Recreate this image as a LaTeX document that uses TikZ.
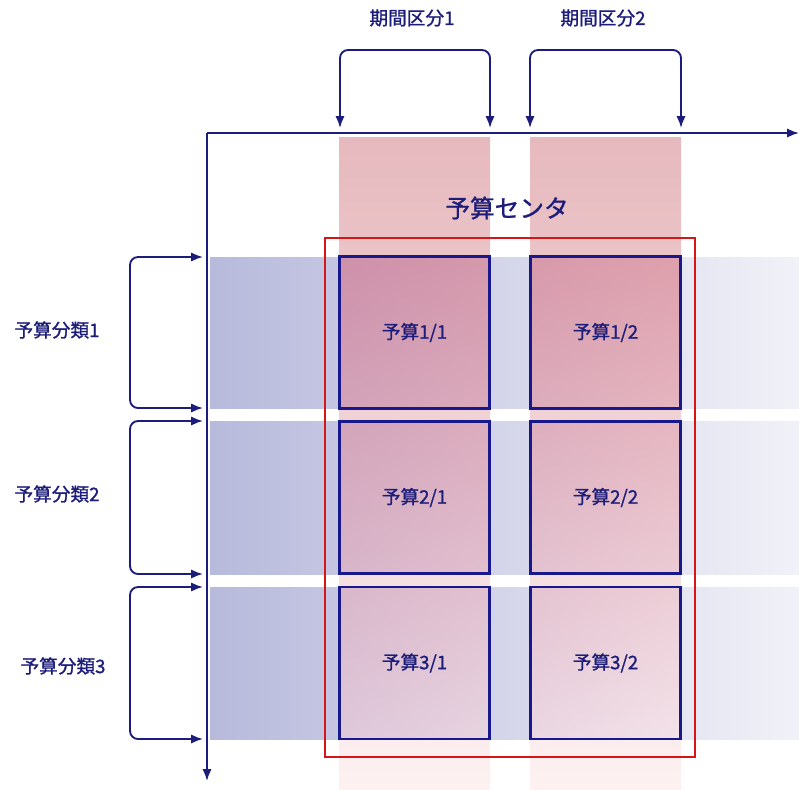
\documentclass[tikz,border=0pt]{standalone}
\usepackage{fontspec}
\setmainfont{Noto Sans CJK JP}[FakeBold=1]
\usetikzlibrary{arrows.meta,positioning,shadings}
\definecolor{navy}{RGB}{28,28,122}
\definecolor{cellblue}{RGB}{24,24,140}
\definecolor{ctrred}{RGB}{212,22,22}
\definecolor{rowblue}{RGB}{184,186,220}
\definecolor{rowpale}{RGB}{241,241,248}
\definecolor{coltop}{RGB}{230,185,190}
\definecolor{colmid}{RGB}{255,202,207}
\definecolor{colbot}{RGB}{253,241,242}
\definecolor{cellul}{RGB}{205,145,170}
\definecolor{cellur}{RGB}{222,160,172}
\definecolor{cellll}{RGB}{222,200,218}
\definecolor{celllr}{RGB}{243,226,233}
\tikzset{>={Latex[length=9pt,width=7pt]}}
\tikzset{axis/.style={->, navy, line width=1.4pt}}
\tikzset{bracket/.style={<->, navy, line width=1.4pt, rounded corners=6pt}}
\tikzset{cell/.style={draw=cellblue, line width=2.2pt, minimum width=113pt, minimum height=114pt, inner sep=0pt, text=navy, font=\fontsize{14}{16}\selectfont}}
\tikzset{lbl/.style={text=navy, inner sep=1pt, font=\fontsize{14}{16}\selectfont}}

\begin{document}
\begin{tikzpicture}[x=0.75pt,y=-0.75pt]
      \useasboundingbox (0,0) rectangle (799,789);
      % bands
      \shade[left color=rowblue, right color=rowpale] (210,257) rectangle (799,408);
      \shade[left color=rowblue, right color=rowpale] (210,421) rectangle (799,574);
      \shade[left color=rowblue, right color=rowpale] (210,587) rectangle (799,739);
      \shade[top color=coltop, middle color=colmid, bottom color=colbot] (339,137) rectangle (490,789);
      \shade[top color=coltop, middle color=colmid, bottom color=colbot] (530,137) rectangle (681,789);
      \begin{scope}
        \clip (339,257) rectangle (490,408) (530,257) rectangle (681,408)
              (339,421) rectangle (490,574) (530,421) rectangle (681,574)
              (339,587) rectangle (490,739) (530,587) rectangle (681,739);
        \shade[upper left=cellul, upper right=cellur, lower left=cellll, lower right=celllr] (339,257) rectangle (681,739);
      \end{scope}
      % budget center
      \draw[ctrred, line width=1.3pt] (325,238) rectangle (695,757);
      \node[lbl, font=\fontsize{18.5}{20}\selectfont] (ctr) at (507,208) {予算センタ};
      % cells
      \node[cell] (b11) at (414.5,332.5) {予算1/1};
      \node[cell] (b12) at (605.5,332.5) {予算1/2};
      \node[cell] (b21) at (414.5,497.5) {予算2/1};
      \node[cell] (b22) at (605.5,497.5) {予算2/2};
      \node[cell] (b31) at (414.5,663) {予算3/1};
      \node[cell] (b32) at (605.5,663) {予算3/2};
      % axes
      \coordinate (o) at (207,133);
      \coordinate (xend) at (799,133);
      \coordinate (yend) at (207,781);
      \draw[axis] (o) -- (xend);
      \draw[axis] (o) -- (yend);
      % periods
      \node[lbl] (p1) at (412,18) {期間区分1};
      \node[lbl] (p2) at (603,18) {期間区分2};
      \coordinate (ptop) at (0,50);
      \coordinate (p1a) at (340,128);
      \coordinate (p1b) at (490,128);
      \coordinate (p2a) at (530,128);
      \coordinate (p2b) at (681,128);
      \draw[bracket] (p1a) -- (p1a |- ptop) -- (p1b |- ptop) -- (p1b);
      \draw[bracket] (p2a) -- (p2a |- ptop) -- (p2b |- ptop) -- (p2b);
      % classes
      \node[lbl] (k1) at (57,330) {予算分類1};
      \node[lbl] (k2) at (57,494) {予算分類2};
      \node[lbl] (k3) at (63,666) {予算分類3};
      \coordinate (kleft) at (130,0);
      \coordinate (k1a) at (203,257);
      \coordinate (k1b) at (203,408);
      \coordinate (k2a) at (203,421);
      \coordinate (k2b) at (203,574);
      \coordinate (k3a) at (203,587);
      \coordinate (k3b) at (203,739);
      \draw[bracket] (k1a) -- (kleft |- k1a) -- (kleft |- k1b) -- (k1b);
      \draw[bracket] (k2a) -- (kleft |- k2a) -- (kleft |- k2b) -- (k2b);
      \draw[bracket] (k3a) -- (kleft |- k3a) -- (kleft |- k3b) -- (k3b);
    \end{tikzpicture}
\end{document}
